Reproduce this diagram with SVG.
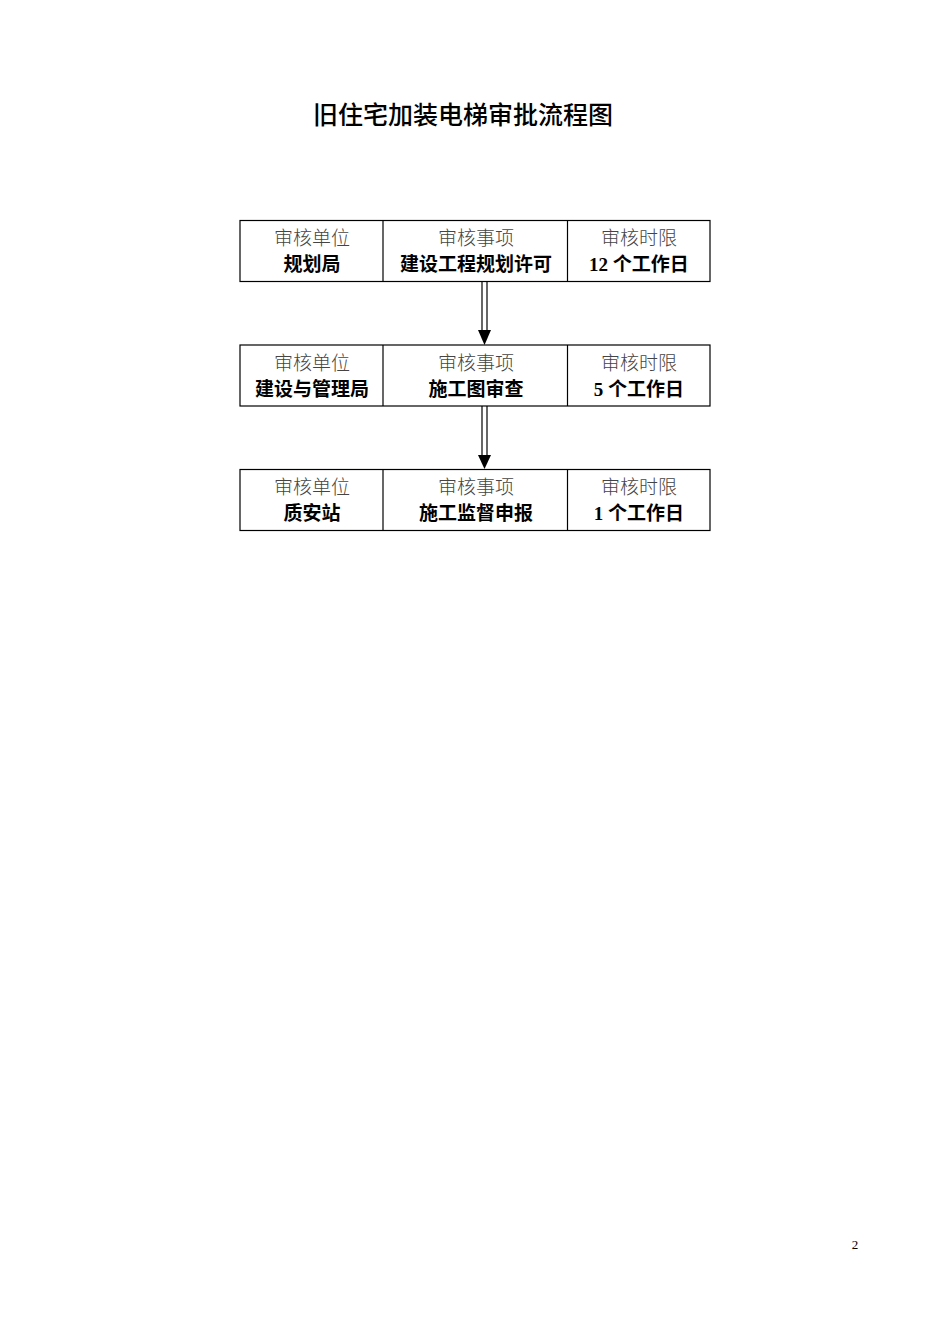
<svg xmlns="http://www.w3.org/2000/svg" width="950" height="1344" viewBox="0 0 950 1344">
<defs>
<style>
.box{fill:#fff;stroke:#000;stroke-width:1.2}
.div{stroke:#000;stroke-width:1.2}
.lab{font-family:"Liberation Serif","Noto Sans CJK SC",serif;font-size:19px;fill:#444;text-anchor:middle;font-weight:300}
.val{font-family:"Liberation Serif","Noto Sans CJK SC",serif;font-size:19px;fill:#000;text-anchor:middle;font-weight:bold}
.title{font-family:"Noto Sans CJK SC",sans-serif;font-size:25px;fill:#000;text-anchor:middle;font-weight:500}
.shaft{stroke:#000;stroke-width:1.2;fill:none}
</style>
</defs>
<rect width="950" height="1344" fill="#fff"/>
<text class="title" x="463" y="124">旧住宅加装电梯审批流程图</text>
<g id="connectors">
<line class="shaft" x1="482" y1="282" x2="482" y2="332"/>
<line class="shaft" x1="487" y1="282" x2="487" y2="332"/>
<polygon points="478,330 491,330 484.5,345" fill="#000"/>
<line class="shaft" x1="482" y1="406" x2="482" y2="456"/>
<line class="shaft" x1="487" y1="406" x2="487" y2="456"/>
<polygon points="478,455 491,455 484.5,469" fill="#000"/>
</g>
<g id="node1">
<rect class="box" x="240" y="220.5" width="470" height="61"/>
<line class="div" x1="383" y1="220.5" x2="383" y2="281.5"/>
<line class="div" x1="567.5" y1="220.5" x2="567.5" y2="281.5"/>
<text class="lab" x="312" y="245">审核单位</text>
<text class="val" x="312" y="271">规划局</text>
<text class="lab" x="476" y="245">审核事项</text>
<text class="val" x="476" y="271">建设工程规划许可</text>
<text class="lab" x="639" y="245">审核时限</text>
<text class="val" x="639" y="271">12 个工作日</text>
</g>
<g id="node2">
<rect class="box" x="240" y="345" width="470" height="61"/>
<line class="div" x1="383" y1="345" x2="383" y2="406"/>
<line class="div" x1="567.5" y1="345" x2="567.5" y2="406"/>
<text class="lab" x="312" y="369.5">审核单位</text>
<text class="val" x="312" y="395.5">建设与管理局</text>
<text class="lab" x="476" y="369.5">审核事项</text>
<text class="val" x="476" y="395.5">施工图审查</text>
<text class="lab" x="639" y="369.5">审核时限</text>
<text class="val" x="639" y="395.5">5 个工作日</text>
</g>
<g id="node3">
<rect class="box" x="240" y="469.5" width="470" height="61"/>
<line class="div" x1="383" y1="469.5" x2="383" y2="530.5"/>
<line class="div" x1="567.5" y1="469.5" x2="567.5" y2="530.5"/>
<text class="lab" x="312" y="494">审核单位</text>
<text class="val" x="312" y="520">质安站</text>
<text class="lab" x="476" y="494">审核事项</text>
<text class="val" x="476" y="520">施工监督申报</text>
<text class="lab" x="639" y="494">审核时限</text>
<text class="val" x="639" y="520">1 个工作日</text>
</g>
<text x="855" y="1249" font-family="Liberation Serif,serif" font-size="13" fill="#000" text-anchor="middle">2</text>
</svg>
